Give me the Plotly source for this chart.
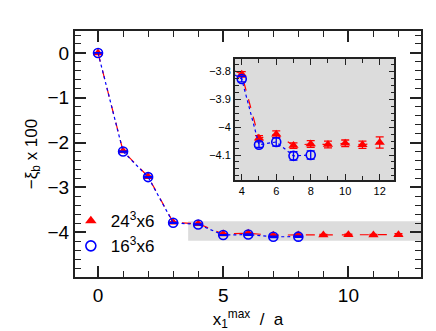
import plotly.graph_objects as go

# data
x24 = [0, 1, 2, 3, 4, 5, 6, 7, 8, 9, 10, 11, 12]
y24 = [0.0, -2.19, -2.76, -3.78, -3.81, -4.04, -4.025, -4.066, -4.06, -4.062, -4.058, -4.063, -4.055]
e24 = [0.005, 0.01, 0.01, 0.01, 0.01, 0.01, 0.012, 0.01, 0.012, 0.012, 0.012, 0.013, 0.02]
x16 = [0, 1, 2, 3, 4, 5, 6, 7, 8]
y16 = [0.0, -2.2, -2.77, -3.79, -3.827, -4.063, -4.053, -4.103, -4.10]
e16 = [0.005, 0.01, 0.01, 0.01, 0.01, 0.01, 0.015, 0.015, 0.015]
name24 = "24<sup>3</sup>x6"
name16 = "16<sup>3</sup>x6"
main_yticks = [0, -1, -2, -3, -4]
inset_x = [3.6, 12.85]
inset_y = [-4.19, -3.755]

RED = "#ff0000"
BLUE = "#0000ff"
FONT = "Liberation Sans"

fig = go.Figure()

def add_series(xa, ya):
    fig.add_trace(go.Scatter(
        x=x24, y=y24, name=name24, mode="lines+markers",
        line=dict(color=RED, width=1.2, dash="dash"),
        marker=dict(symbol="triangle-up", size=9, color=RED),
        error_y=dict(type="data", array=e24, color=RED, thickness=1.3, width=4),
        xaxis=xa, yaxis=ya, showlegend=False))
    fig.add_trace(go.Scatter(
        x=x16, y=y16, name=name16, mode="lines+markers",
        line=dict(color=BLUE, width=1.2, dash="dot"),
        marker=dict(symbol="circle-open", size=9, color=BLUE, line=dict(width=1.6)),
        error_y=dict(type="data", array=e16, color=BLUE, thickness=1.3, width=4),
        xaxis=xa, yaxis=ya, showlegend=False))

add_series("x", "y")
add_series("x2", "y2")

# legend entries (markers only, as in the reference)
fig.add_trace(go.Scatter(x=[None], y=[None], mode="markers", name=name24,
                         marker=dict(symbol="triangle-up", size=10, color=RED), legendrank=1))
fig.add_trace(go.Scatter(x=[None], y=[None], mode="markers", name=name16,
                         marker=dict(symbol="circle-open", size=10, color=BLUE, line=dict(width=1.6)),
                         legendrank=2))

# gray band in main plot marking inset region
fig.add_shape(type="rect", xref="x", yref="y", x0=inset_x[0], x1=13.5,
              y0=inset_y[0], y1=inset_y[1], fillcolor="#dcdcdc", line_width=0, layer="below")
# inset background
fig.add_shape(type="rect", xref="x2 domain", yref="y2 domain", x0=0, x1=1, y0=0, y1=1,
              fillcolor="#dcdcdc", line_width=0, layer="below")

axcol = "#222222"
fig.update_layout(
    width=436, height=331,
    margin=dict(l=67, r=23, t=23, b=62),
    paper_bgcolor="white", plot_bgcolor="rgba(0,0,0,0)",
    font=dict(family=FONT, color="black"),
    showlegend=True,
    legend=dict(x=-0.012, y=0.30, xanchor="left", yanchor="top",
                bgcolor="rgba(0,0,0,0)", font=dict(size=17, family=FONT),
                tracegroupgap=0, itemwidth=30),
    xaxis=dict(range=[-0.92, 12.9], tickvals=[0, 5, 10], ticks="inside", ticklen=11,
               tickwidth=1.5, tickcolor=axcol,
               minor=dict(dtick=1, tick0=0, ticks="inside", ticklen=6, tickwidth=1.2, tickcolor=axcol),
               showline=True, linewidth=2, linecolor=axcol, mirror="ticks",
               showgrid=False, zeroline=False,
               tickfont=dict(size=19, family=FONT),
               title=dict(text="x<sub>1</sub><sup>max</sup>  /  a", font=dict(size=17, family=FONT), standoff=8)),
    yaxis=dict(range=[-5.0, 0.49], tickvals=main_yticks, ticks="inside", ticklen=11,
               tickwidth=1.5, tickcolor=axcol,
               minor=dict(dtick=0.2, tick0=0, ticks="inside", ticklen=6, tickwidth=1.2, tickcolor=axcol),
               showline=True, linewidth=2, linecolor=axcol, mirror="ticks",
               showgrid=False, zeroline=False,
               tickfont=dict(size=19, family=FONT),
               title=dict(text="−ξ<sub>b</sub> x 100", font=dict(size=17, family=FONT), standoff=6)),
    xaxis2=dict(domain=[0.462, 0.923], anchor="y2", range=inset_x, dtick=2, tick0=0,
                ticks="inside", ticklen=6, tickwidth=1.2, tickcolor=axcol,
                minor=dict(dtick=1, tick0=0, ticks="inside", ticklen=4, tickwidth=1, tickcolor=axcol),
                showline=True, linewidth=1.5, linecolor=axcol, mirror="ticks",
                showgrid=False, zeroline=False, tickfont=dict(size=11, family=FONT)),
    yaxis2=dict(domain=[0.394, 0.886], anchor="x2", range=inset_y, dtick=0.1, tick0=0,
                ticks="inside", ticklen=6, tickwidth=1.2, tickcolor=axcol,
                minor=dict(dtick=0.025, tick0=0, ticks="inside", ticklen=4, tickwidth=1, tickcolor=axcol),
                showline=True, linewidth=1.5, linecolor=axcol, mirror="ticks",
                showgrid=False, zeroline=False, tickfont=dict(size=11, family=FONT)),
)

fig.write_html("out.html")
